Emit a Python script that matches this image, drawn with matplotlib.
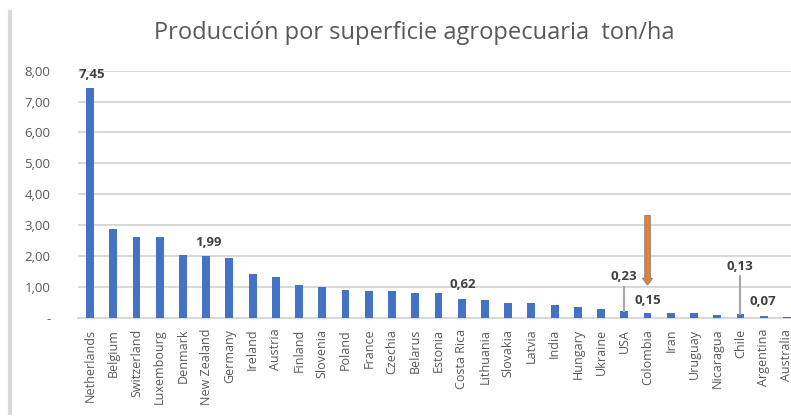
import numpy as np
import matplotlib.pyplot as plt
from matplotlib.lines import Line2D

countries = ["Netherlands", "Belgium", "Switzerland", "Luxembourg", "Denmark",
             "New Zealand", "Germany", "Ireland", "Austria", "Finland", "Slovenia",
             "Poland", "France", "Czechia", "Belarus", "Estonia", "Costa Rica",
             "Lithuania", "Slovakia", "Latvia", "India", "Hungary", "Ukraine", "USA",
             "Colombia", "Iran", "Uruguay", "Nicaragua", "Chile", "Argentina", "Australia"]
values = [7.45, 2.88, 2.60, 2.60, 2.03, 1.99, 1.92, 1.42, 1.32, 1.05, 1.00,
          0.90, 0.85, 0.85, 0.80, 0.80, 0.62, 0.57, 0.47, 0.47, 0.42, 0.35,
          0.27, 0.23, 0.15, 0.14, 0.14, 0.08, 0.13, 0.07, 0.03]
yticks = [0, 1, 2, 3, 4, 5, 6, 7, 8]
ytick_labels = ["-", "1,00", "2,00", "3,00", "4,00", "5,00", "6,00", "7,00", "8,00"]

# labelled bars: (index, text, label x, label y, leader line)
labels = [(0, "7,45", 0.1, 7.88, False),
          (5, "1,99", 5.08, 2.44, False),
          (16, "0,62", 16.03, 1.06, False),
          (23, "0,23", 23.0, 1.32, True),
          (24, "0,15", 24.0, 0.57, False),
          (28, "0,13", 27.98, 1.67, True),
          (29, "0,07", 28.95, 0.52, False)]

grey = "#595959"
fig = plt.figure(figsize=(7.91, 4.17), dpi=100)
ax = fig.add_axes([78.4/791, 1-317.7/417, (791-78.4)/791, (317.7-70.7)/417])

x = np.arange(len(countries))
ax.bar(x, values, width=0.34, color="#4472C4", zorder=3)
ax.set_xlim(-0.5, -0.5 + (791-78.4)/23.23)
ax.set_ylim(0, 8)
ax.set_yticks(yticks)
ax.set_yticklabels(ytick_labels, fontsize=9.5, color=grey, family="Open Sans")
ax.set_xticks(x)
ax.set_xticklabels(countries, rotation=90, fontsize=9, color=grey, family="Open Sans")
ax.tick_params(length=0, pad=8)
ax.tick_params(axis='y', pad=20)
ax.grid(axis='y', color="#d9d9d9", lw=1.5, zorder=0)
for s in ["top", "right", "left"]:
    ax.spines[s].set_visible(False)
ax.spines["bottom"].set_color("#d9d9d9")
ax.spines["bottom"].set_linewidth(1.5)

for i, t, lx, ly, lead in labels:
    ax.text(lx, ly, t, ha='center', va='center', fontsize=9.5, fontweight='bold',
            color="#404040", family="Open Sans", clip_on=False)
    if lead:
        ax.plot([i, i], [values[i], ly - 0.32], color="#a6a6a6", lw=1.5, zorder=4)

ax.annotate("", xy=(24, 0.97), xytext=(24, 3.4),
            arrowprops=dict(arrowstyle="simple,head_width=0.9,head_length=0.6,tail_width=0.5",
                            mutation_scale=8, fc="#ED7D31", ec="#8c8c8c", lw=0.8))

fig.text(414/791, 1-33/417, "Producción por superficie agropecuaria  ton/ha",
         ha='center', va='center', fontsize=17, color=grey, family="Open Sans")
fig.add_artist(Line2D([10/791, 10/791], [4/417, 405/417], color="#d9d9d9", lw=3))

fig.savefig("out.png", dpi=100)
